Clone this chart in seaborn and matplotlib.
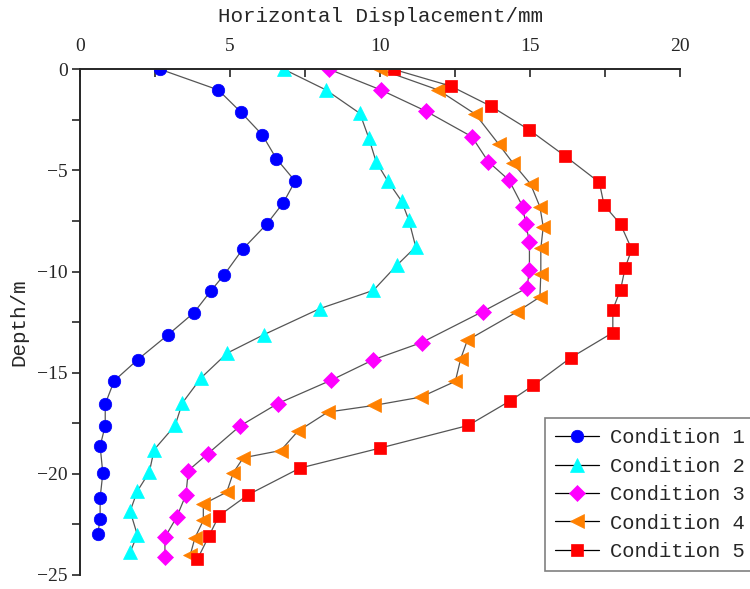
import matplotlib
matplotlib.use("Agg")
import matplotlib.pyplot as plt
import seaborn as sns
from matplotlib.ticker import MultipleLocator

# Values (displacement in mm, depth in m)
c1_x = [2.67, 4.61, 5.37, 6.08, 6.54, 7.17, 6.78, 6.22, 5.42, 4.81, 4.36, 3.80,
        2.94, 1.92, 1.14, 0.84, 0.84, 0.67, 0.76, 0.67, 0.67, 0.59]
c1_y = [0, -1.02, -2.13, -3.25, -4.41, -5.53, -6.59, -7.66, -8.90, -10.15, -10.96, -12.03,
        -13.12, -14.36, -15.40, -16.55, -17.62, -18.63, -19.97, -21.19, -22.26, -22.97]

c2_x = [6.80, 8.20, 9.33, 9.63, 9.87, 10.26, 10.72, 10.96, 11.19, 10.56, 9.78, 8.00,
        6.13, 4.91, 4.04, 3.41, 3.17, 2.47, 2.31, 1.91, 1.67, 1.91, 1.67]
c2_y = [0, -1.02, -2.18, -3.42, -4.57, -5.53, -6.52, -7.46, -8.78, -9.69, -10.93, -11.83,
        -13.12, -14.03, -15.25, -16.50, -17.61, -18.81, -19.92, -20.86, -21.85, -23.02, -23.88]

c3_x = [8.31, 10.03, 11.52, 13.06, 13.61, 14.30, 14.76, 14.86, 14.98, 14.98, 14.90, 13.42,
        11.39, 9.78, 8.36, 6.59, 5.33, 4.26, 3.61, 3.53, 3.22, 2.83, 2.83]
c3_y = [0, -1.02, -2.06, -3.33, -4.57, -5.48, -6.80, -7.67, -8.53, -9.90, -10.81, -11.98,
        -13.51, -14.36, -15.38, -16.53, -17.64, -19.01, -19.84, -21.04, -22.15, -23.14, -24.13]

c4_x = [10.00, 11.94, 13.18, 13.95, 14.44, 15.02, 15.33, 15.44, 15.36, 15.36, 15.33, 14.56,
        12.91, 12.69, 12.51, 11.36, 9.80, 8.26, 7.26, 6.69, 5.44, 5.11, 4.89, 4.11, 4.11,
        3.83, 3.67]
c4_y = [0, -1.02, -2.22, -3.69, -4.65, -5.68, -6.80, -7.79, -8.86, -10.10, -11.26, -12.00,
        -13.40, -14.31, -15.43, -16.21, -16.62, -16.95, -17.90, -18.85, -19.21, -19.95,
        -20.91, -21.50, -22.31, -23.17, -24.04]

c5_x = [10.45, 12.36, 13.69, 14.98, 16.17, 17.31, 17.47, 18.02, 18.39, 18.17, 18.02, 17.76,
        17.76, 16.36, 15.11, 14.33, 12.94, 10.00, 7.33, 5.60, 4.63, 4.30, 3.91]
c5_y = [0, -0.83, -1.82, -3.00, -4.29, -5.59, -6.72, -7.67, -8.90, -9.82, -10.89, -11.88,
        -13.02, -14.26, -15.63, -16.40, -17.61, -18.73, -19.72, -21.04, -22.08, -23.07, -24.23]

labels = ["Condition 1", "Condition 2", "Condition 3", "Condition 4", "Condition 5"]
colors = ["#0000ff", "#00ffff", "#ff00ff", "#ff8000", "#ff0000"]
markers = ["o", "^", "D", "<", "s"]
msizes = [9, 10, 8, 10, 8]

sns.set_style("ticks")
mono = ["Liberation Mono", "DejaVu Sans Mono"]
serif = ["Liberation Serif", "DejaVu Serif"]
# set after set_style, otherwise seaborn resets it
plt.rcParams["font.family"] = serif

fig = plt.figure(figsize=(7.5, 5.89), dpi=100)
ax = fig.add_axes([0.1067, 0.024, 0.8, 0.8583])

series = [(c1_x, c1_y), (c2_x, c2_y), (c3_x, c3_y), (c4_x, c4_y), (c5_x, c5_y)]
for (xs, ys), lab, col, mk, ms in zip(series, labels, colors, markers, msizes):
    sns.lineplot(x=xs, y=ys, sort=False, estimator=None, ax=ax, label=lab,
                 color="#555555", linewidth=0.9, marker=mk, markersize=ms,
                 markerfacecolor=col, markeredgecolor=col, markeredgewidth=0.5)

ax.set_xlim(0, 20)
ax.set_ylim(-25, 0)
ax.xaxis.set_label_position("top")
ax.xaxis.tick_top()
ax.xaxis.set_major_locator(MultipleLocator(5))
ax.xaxis.set_minor_locator(MultipleLocator(2.5))
ax.yaxis.set_major_locator(MultipleLocator(5))
ax.yaxis.set_minor_locator(MultipleLocator(2.5))
ax.tick_params(axis="x", which="both", direction="in", length=6, width=1.2,
               top=True, bottom=False, pad=10, labelsize=14)
ax.tick_params(axis="y", which="both", direction="out", length=6, width=1.2,
               pad=3, labelsize=14)

for side in ["right", "bottom"]:
    ax.spines[side].set_visible(False)
for side in ["left", "top"]:
    ax.spines[side].set_linewidth(1.4)

ax.set_xlabel("Horizontal Displacement/mm", family=mono, fontsize=15, labelpad=12)
ax.set_ylabel("Depth/m", family=mono, fontsize=15, labelpad=6)

leg = ax.legend(loc="upper left", bbox_to_anchor=(545 / 750, 1 - 418 / 589),
                bbox_transform=fig.transFigure, prop={"family": mono, "size": 14.8},
                frameon=True, fancybox=False, edgecolor="#808080", framealpha=1,
                handlelength=2.15, handletextpad=0.5, labelspacing=0.46,
                borderpad=0.5, borderaxespad=0)
leg.get_frame().set_linewidth(1.2)
for h in leg.get_lines():
    h.set_color("black")
    h.set_linewidth(0.9)

fig.savefig("out.png", dpi=100)
